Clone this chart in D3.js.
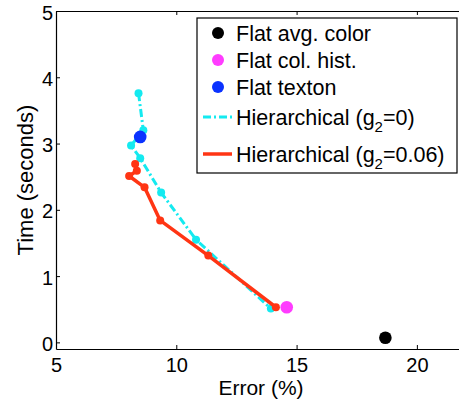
<!DOCTYPE html>
<html><head><meta charset="utf-8">
<script src="https://cdn.jsdelivr.net/npm/d3@7"></script>
<style>body{margin:0;background:#fff;} svg{display:block;font-family:"Liberation Sans",Arial,sans-serif;}</style>
</head><body>
<svg id="c" width="459" height="402"></svg>
<script>
// Data
const xTicks = [5, 10, 15, 20];
const yTicks = [0, 1, 2, 3, 4, 5];
const hier0X = [8.43, 8.63, 8.12, 8.50, 9.37, 10.82, 13.93];
const hier0Y = [3.76, 3.20, 2.97, 2.78, 2.26, 1.55, 0.51];
const hier6X = [8.29, 8.36, 8.04, 8.68, 9.33, 11.33, 14.14];
const hier6Y = [2.69, 2.59, 2.51, 2.34, 1.84, 1.31, 0.53];
const flatNames = ["Flat avg. color", "Flat col. hist.", "Flat texton"];
const flatX = [18.69, 14.59, 8.50];
const flatY = [0.07, 0.53, 3.10];
const flatColors = ["#000000", "#ff3cff", "#0a32ff"];

const FONT = '"Liberation Sans",Arial,sans-serif';
const svg = d3.select("#c");
const L = 56, R = 465, T = 11, B = 349;
const x = d3.scaleLinear().domain([5, 22]).range([L, R]);
const y = d3.scaleLinear().domain([-0.1, 5]).range([B, T]);

// axes
const gx = svg.append("g").attr("transform", `translate(0,${B})`)
  .call(d3.axisBottom(x).tickValues(xTicks).tickSizeInner(-4).tickSizeOuter(0).tickFormat(d3.format("d")));
const gxt = svg.append("g").attr("transform", `translate(0,${T})`)
  .call(d3.axisTop(x).tickValues(xTicks).tickSizeInner(-4).tickSizeOuter(0).tickFormat(""));
const gy = svg.append("g").attr("transform", `translate(${L},0)`)
  .call(d3.axisLeft(y).tickValues(yTicks).tickSizeInner(-4).tickSizeOuter(0).tickPadding(3).tickFormat(d3.format("d")));
[gx, gxt, gy].forEach(g => {
  g.select(".domain").attr("stroke", "#000").attr("stroke-width", 1.2);
  g.selectAll(".tick line").attr("stroke", "#000");
  g.selectAll("text").attr("font-size", 20).attr("fill", "#000").style("font-family", FONT);
});
gx.selectAll("text").attr("dy", 0).attr("y", 23);
gy.selectAll("text").attr("dy", "0.4em");

svg.append("text").attr("x", 261).attr("y", 395).attr("text-anchor", "middle")
  .attr("font-size", 21).text("Error (%)");
svg.append("text").attr("transform", `translate(33,${(T + B) / 2}) rotate(-90)`).attr("text-anchor", "middle")
  .attr("font-size", 22).text("Time (seconds)");

const line = d3.line().x(d => x(d[0])).y(d => y(d[1]));
const h0 = hier0X.map((v, i) => [v, hier0Y[i]]);
const h6 = hier6X.map((v, i) => [v, hier6Y[i]]);
const cyan = "#14eaf0", red = "#ff3514";

svg.append("path").datum(h0).attr("d", line).attr("fill", "none").attr("stroke", cyan)
  .attr("stroke-width", 3).attr("stroke-dasharray", "8,3,2,3");
svg.selectAll(".c0").data(h0).enter().append("circle").attr("cx", d => x(d[0])).attr("cy", d => y(d[1]))
  .attr("r", 4).attr("fill", cyan);

svg.append("path").datum(h6).attr("d", line).attr("fill", "none").attr("stroke", red)
  .attr("stroke-width", 3.5).attr("stroke-linejoin", "round");
svg.selectAll(".c6").data(h6).enter().append("circle").attr("cx", d => x(d[0])).attr("cy", d => y(d[1]))
  .attr("r", 4).attr("fill", red);

flatX.forEach((v, i) => {
  svg.append("circle").attr("cx", x(v)).attr("cy", y(flatY[i])).attr("r", 6.3).attr("fill", flatColors[i]);
});

// legend
const lg = svg.append("g");
lg.append("rect").attr("x", 197).attr("y", 18).attr("width", 260).attr("height", 155)
  .attr("fill", "#fff").attr("stroke", "#000").attr("stroke-width", 1.2);
const rowsY = [33, 60, 87, 117, 154];
flatNames.forEach((n, i) => {
  lg.append("circle").attr("cx", 218).attr("cy", rowsY[i]).attr("r", 6).attr("fill", flatColors[i]);
  lg.append("text").attr("x", 236).attr("y", rowsY[i] + 7.5).attr("font-size", 21.5).text(n);
});
lg.append("line").attr("x1", 203).attr("x2", 232).attr("y1", rowsY[3]).attr("y2", rowsY[3])
  .attr("stroke", cyan).attr("stroke-width", 3).attr("stroke-dasharray", "8,3,2,3");
lg.append("line").attr("x1", 203).attr("x2", 232).attr("y1", rowsY[4]).attr("y2", rowsY[4])
  .attr("stroke", red).attr("stroke-width", 3.5);
function hier(yy, sub) {
  const t = lg.append("text").attr("x", 236).attr("y", yy + 7.5).attr("font-size", 21.5);
  t.append("tspan").text("Hierarchical (g");
  t.append("tspan").attr("font-size", 15).attr("dy", 7).text("2");
  t.append("tspan").attr("dy", -7).text("=" + sub + ")");
}
hier(rowsY[3], "0");
hier(rowsY[4], "0.06");
</script>
</body></html>
